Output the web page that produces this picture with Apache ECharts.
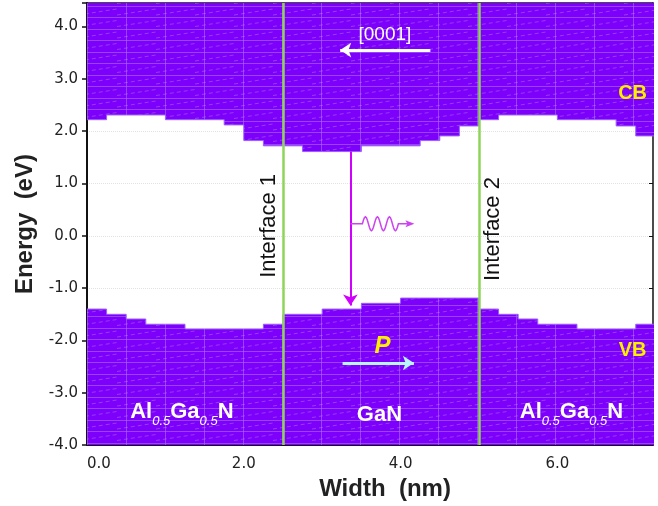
<!DOCTYPE html>
<html>
<head>
<meta charset="utf-8">
<script src="https://cdn.jsdelivr.net/npm/echarts@6/dist/echarts.min.js"></script>
<style>
  html, body { margin: 0; padding: 0; background: #fff; }
  #main { width: 658px; height: 506px; }
</style>
</head>
<body>
<div id="main"></div>
<script>
// band edges (eV), one value per 0.25 nm step
const positions = [0, 0.25, 0.5, 0.75, 1.0, 1.25, 1.5, 1.75, 2.0, 2.25,
  2.5, 2.75, 3.0, 3.25, 3.5, 3.75, 4.0, 4.25, 4.5, 4.75,
  5.0, 5.25, 5.5, 5.75, 6.0, 6.25, 6.5, 6.75, 7.0, 7.25]
const cbEdge = [2.22, 2.31, 2.31, 2.31, 2.22, 2.22, 2.22, 2.12, 1.82, 1.72,
  1.72, 1.61, 1.61, 1.61, 1.72, 1.72, 1.72, 1.82, 1.91, 2.10,
  2.22, 2.31, 2.31, 2.31, 2.22, 2.22, 2.22, 2.10, 1.91, 1.91]
const vbEdge = [-1.40, -1.50, -1.59, -1.69, -1.69, -1.78, -1.78, -1.78, -1.78, -1.69,
  -1.50, -1.50, -1.40, -1.40, -1.29, -1.29, -1.19, -1.19, -1.19, -1.19,
  -1.40, -1.50, -1.59, -1.69, -1.69, -1.78, -1.78, -1.78, -1.69, -1.69]
const interfaces = [2.5, 5.0]
const xTicks = [0, 2, 4, 6]

const FONT = 'Liberation Sans, Arial, sans-serif'
const TICKFONT = 'DejaVu Sans, sans-serif'

// purple fill with the light grid / dash texture
function makeHatch() {
  const c = document.createElement('canvas')
  c.width = 39
  c.height = 23
  const g = c.getContext('2d')
  g.fillStyle = '#7d00fa'
  g.fillRect(0, 0, 39, 23)
  g.strokeStyle = 'rgba(170,110,255,0.6)'
  g.lineWidth = 1
  g.beginPath()
  g.moveTo(9.5, 0); g.lineTo(9.5, 23)
  g.moveTo(0, 6.5); g.lineTo(39, 6.5)
  g.moveTo(0, 17.5); g.lineTo(39, 17.5)
  g.stroke()
  g.strokeStyle = 'rgba(190,150,255,0.4)'
  g.setLineDash([4, 3])
  g.beginPath()
  g.moveTo(0, 15); g.lineTo(39, 9)
  g.moveTo(0, 3.5); g.lineTo(39, -2.5)
  g.moveTo(0, 26.5); g.lineTo(39, 20.5)
  g.stroke()
  return c
}
const hatch = { image: makeHatch(), repeat: 'repeat' }

const chart = echarts.init(document.getElementById('main'))

chart.setOption({
  animation: false,
  grid: { left: 87, right: 5, top: 3, bottom: 58 },
  xAxis: [{
    type: 'value',
    min: 0,
    max: 7.22,
    interval: 1,
    name: 'Width  (nm)',
    nameLocation: 'middle',
    nameGap: 30,
    nameTextStyle: { fontFamily: FONT, fontSize: 24, fontWeight: 'bold', color: '#222', padding: [0, 0, 0, 30] },
    axisLine: { onZero: false, lineStyle: { color: '#111', width: 2 } },
    axisTick: { inside: true, length: 5, lineStyle: { color: '#111', width: 1.5 } },
    axisLabel: {
      margin: 12, fontFamily: TICKFONT, fontSize: 15, color: '#222',
      alignMinLabel: 'left',
      formatter: v => (xTicks.indexOf(v) >= 0 ? v.toFixed(1) : '')
    },
    splitLine: { show: false }
  }, {
    type: 'value', position: 'top', min: 0, max: 7.22,
    axisLine: { onZero: false, lineStyle: { color: '#111', width: 1.5 } },
    axisTick: { show: false }, axisLabel: { show: false }, splitLine: { show: false }
  }],
  yAxis: [{
    type: 'value',
    min: -4,
    max: 4.45,
    interval: 1,
    name: 'Energy  (eV)',
    nameLocation: 'middle',
    nameGap: 50,
    nameRotate: 90,
    nameTextStyle: { fontFamily: FONT, fontSize: 24, fontWeight: 'bold', color: '#222' },
    axisLine: { onZero: false, lineStyle: { color: '#111', width: 2 } },
    axisTick: { inside: false, length: 5, lineStyle: { color: '#111', width: 1.5 } },
    axisLabel: {
      margin: 9, fontFamily: TICKFONT, fontSize: 15, color: '#222',
      formatter: v => (Number.isInteger(v) ? v.toFixed(1) : '')
    },
    splitLine: { show: true, lineStyle: { color: '#e2e2e2', type: 'dotted' } }
  }, {
    type: 'value', position: 'right', min: -4, max: 4.45, interval: 1,
    axisLine: { show: true, onZero: false, lineStyle: { color: '#111', width: 1.5 } },
    axisTick: { inside: true, length: 4, lineStyle: { color: '#111' } },
    axisLabel: { show: false }, splitLine: { show: false }
  }],
  series: [{
    // conduction band: filled upward from its lower edge
    name: 'CB',
    type: 'line',
    step: 'end',
    symbol: 'none',
    data: positions.map((x, i) => [x, cbEdge[i]]),
    lineStyle: { color: '#9a5cff', width: 1 },
    areaStyle: { origin: 'end', color: hatch, opacity: 1 },
    z: 2
  }, {
    // valence band: filled downward from its upper edge
    name: 'VB',
    type: 'line',
    step: 'end',
    symbol: 'none',
    data: positions.map((x, i) => [x, vbEdge[i]]),
    lineStyle: { color: '#9a5cff', width: 1 },
    areaStyle: { origin: 'start', color: hatch, opacity: 1 },
    z: 2
  }, {
    // interface markers
    type: 'line',
    data: [],
    z: 4,
    markLine: {
      silent: true,
      symbol: 'none',
      label: { show: false },
      lineStyle: { color: '#8fd45a', width: 2.5, type: 'solid' },
      data: interfaces.map(x => ({ xAxis: x }))
    }
  }, {
    // arrows: recombination, polarization, [0001]
    type: 'lines',
    coordinateSystem: 'cartesian2d',
    z: 5,
    symbol: ['none', 'arrow'],
    symbolSize: 11,
    data: [
      { coords: [[3.36, 1.61], [3.36, -1.33]], lineStyle: { color: '#d000ff', width: 2, opacity: 1 } },
      { coords: [[3.26, -2.43], [4.17, -2.43]], lineStyle: { color: '#b8f6ff', width: 3, opacity: 1 } },
      { coords: [[4.38, 3.55], [3.23, 3.55]], lineStyle: { color: '#ffffff', width: 3, opacity: 1 } }
    ]
  }]
})

// text and photon squiggle placed from data coordinates
function px(x, y) { return chart.convertToPixel({ gridIndex: 0 }, [x, y]) }

function label(x, y, text, style, rotation) {
  const p = px(x, y)
  return {
    type: 'text', x: p[0], y: p[1], rotation: rotation || 0, z: 10,
    style: Object.assign({ text: text, align: 'center', verticalAlign: 'middle' }, style)
  }
}

const alganRich = {
  m: { fontFamily: FONT, fontSize: 22, fontWeight: 'bold', fill: '#fff', verticalAlign: 'top', lineHeight: 22 },
  s: { fontFamily: FONT, fontSize: 13, fontStyle: 'italic', fill: '#fff', verticalAlign: 'top', lineHeight: 13, padding: [14, 0, 0, 0] }
}
const alganText = '{m|Al}{s|0.5}{m|Ga}{s|0.5}{m|N}'

// photon: short lead, three wiggles, then an arrow head
const start = px(3.36, 0.23)
const wave = [[start[0], start[1]], [start[0] + 12, start[1]]]
for (let k = 0; k <= 36; k++) {
  wave.push([start[0] + 12 + k, start[1] - 7 * Math.sin(k / 12 * 2 * Math.PI)])
}
wave.push([start[0] + 58, start[1]])
const tipX = start[0] + 64

chart.setOption({
  graphic: [
    label(2.32, 0.19, 'Interface 1', { font: '22px ' + FONT, fill: '#111' }, Math.PI / 2),
    label(5.18, 0.13, 'Interface 2', { font: '22px ' + FONT, fill: '#111' }, Math.PI / 2),
    label(3.80, 3.85, '[0001]', { font: '19px ' + FONT, fill: '#fff' }),
    label(6.96, 2.73, 'CB', { font: 'bold 20px ' + FONT, fill: '#ffee00' }),
    label(6.96, -2.20, 'VB', { font: 'bold 20px ' + FONT, fill: '#ffee00' }),
    label(3.77, -2.12, 'P', { font: 'italic bold 24px ' + FONT, fill: '#ffee00' }),
    label(3.73, -3.43, 'GaN', { font: 'bold 22px ' + FONT, fill: '#fff' }),
    label(1.21, -3.36, alganText, { rich: alganRich }),
    label(6.18, -3.36, alganText, { rich: alganRich }),
    {
      type: 'polyline', z: 10,
      shape: { points: wave },
      style: { stroke: '#cc44f0', lineWidth: 1.5, fill: 'none' }
    },
    {
      type: 'polygon', z: 10,
      shape: { points: [[tipX, start[1]], [tipX - 9, start[1] - 3.5], [tipX - 7, start[1]], [tipX - 9, start[1] + 3.5]] },
      style: { fill: '#cc44f0' }
    }
  ]
})
</script>
</body>
</html>
